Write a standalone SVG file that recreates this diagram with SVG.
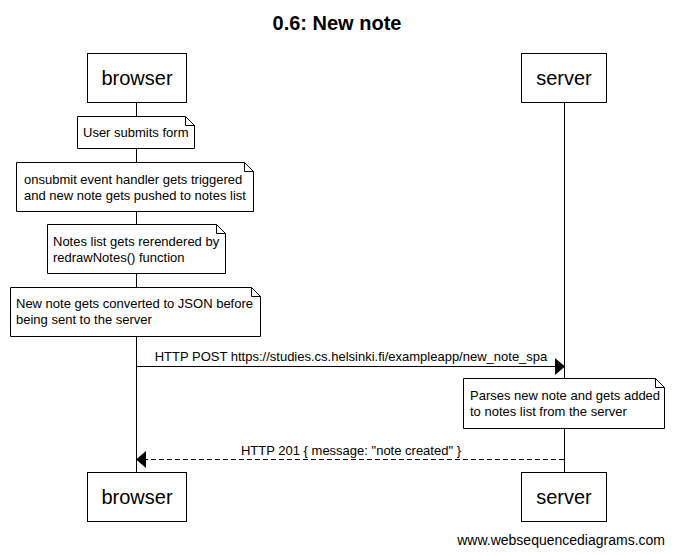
<svg xmlns="http://www.w3.org/2000/svg" width="674" height="555" viewBox="0 0 674 555">
<style>
text{font-family:"Liberation Sans",Arial,sans-serif;fill:#000}
.title{font-size:20px;font-weight:bold;text-anchor:middle}
.actor{font-size:20px;text-anchor:middle}
.note,.msg{font-size:13px}
.msg{text-anchor:middle}
.box{fill:#fff;stroke:#000;stroke-width:1}
.life{stroke:#000;stroke-width:1}
.fold{fill:none;stroke:#000;stroke-width:1}
.wm{font-size:14px;text-anchor:end}
</style>
<rect width="674" height="555" fill="#fff"/>
<text class="title" x="337" y="30">0.6: New note</text>
<g id="lifelines">
<line class="life" x1="136.5" y1="102" x2="136.5" y2="472"/>
<line class="life" x1="564.5" y1="102" x2="564.5" y2="472"/>
</g>
<g id="browser">
<rect class="box" x="87.5" y="53.5" width="99" height="49"/>
<text class="actor" x="137" y="85">browser</text>
<rect class="box" x="87.5" y="472.5" width="99" height="49"/>
<text class="actor" x="137" y="504">browser</text>
</g>
<g id="server">
<rect class="box" x="521.5" y="53.5" width="85" height="49"/>
<text class="actor" x="564" y="85">server</text>
<rect class="box" x="521.5" y="472.5" width="85" height="49"/>
<text class="actor" x="564" y="504">server</text>
</g>
<g id="note1">
<path class="box" d="M77.5,116.5 H185.5 L194.5,125.5 V148.5 H77.5 Z"/>
<path class="fold" d="M185.5,116.5 V125.5 H194.5"/>
<text class="note" x="83" y="137">User submits form</text>
</g>
<g id="note2">
<path class="box" d="M16.5,162.5 H244.5 L253.5,171.5 V211.5 H16.5 Z"/>
<path class="fold" d="M244.5,162.5 V171.5 H253.5"/>
<text class="note" x="24" y="184">onsubmit event handler gets triggered</text>
<text class="note" x="24" y="200">and new note gets pushed to notes list</text>
</g>
<g id="note3">
<path class="box" d="M47.5,224.5 H216.5 L225.5,233.5 V273.5 H47.5 Z"/>
<path class="fold" d="M216.5,224.5 V233.5 H225.5"/>
<text class="note" x="53" y="246">Notes list gets rerendered by</text>
<text class="note" x="53" y="262">redrawNotes() function</text>
</g>
<g id="note4">
<path class="box" d="M10.5,287.5 H251.5 L260.5,296.5 V336.5 H10.5 Z"/>
<path class="fold" d="M251.5,287.5 V296.5 H260.5"/>
<text class="note" x="16" y="308">New note gets converted to JSON before</text>
<text class="note" x="16" y="324">being sent to the server</text>
</g>
<g id="note5">
<path class="box" d="M463.5,378.5 H655.5 L664.5,387.5 V428.5 H463.5 Z"/>
<path class="fold" d="M655.5,378.5 V387.5 H664.5"/>
<text class="note" x="470" y="400">Parses new note and gets added</text>
<text class="note" x="470" y="416">to notes list from the server</text>
</g>
<g id="connectors">
<line x1="137" y1="366.5" x2="556" y2="366.5" stroke="#000" stroke-width="1"/>
<polygon points="565,366.5 555,358 555,375" fill="#000"/>
<text class="msg" x="351" y="361">HTTP POST https://studies.cs.helsinki.fi/exampleapp/new_note_spa</text>
<line x1="564" y1="459.5" x2="146" y2="459.5" stroke="#000" stroke-width="1" stroke-dasharray="5,3"/>
<polygon points="136,459.5 146,451 146,468" fill="#000"/>
<text class="msg" x="351" y="455">HTTP 201 { message: "note created" }</text>
</g>
<text class="wm" x="665" y="545">www.websequencediagrams.com</text>
</svg>
